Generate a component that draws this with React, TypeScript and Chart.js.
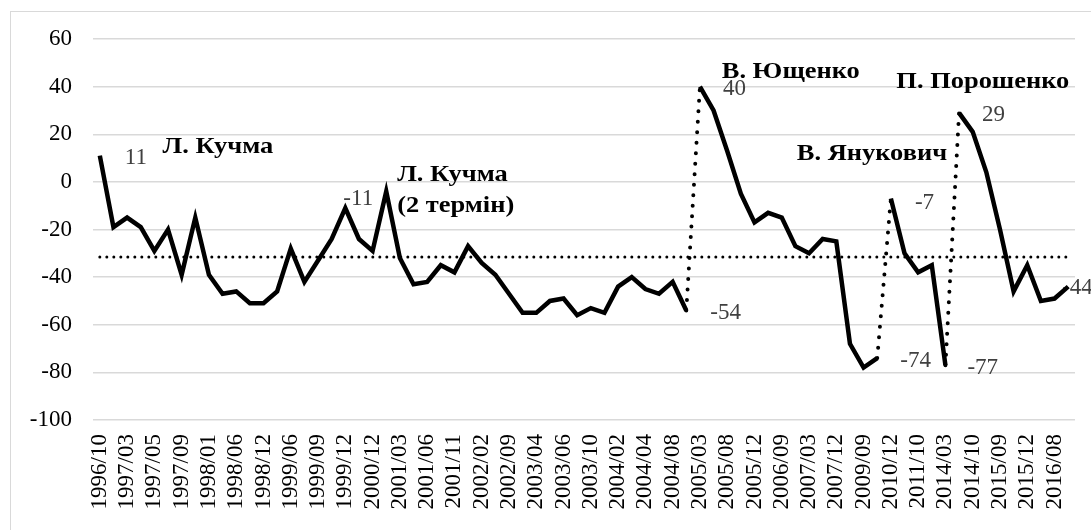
import React, { useEffect, useRef } from "react";
import { Chart, registerables } from "chart.js";

Chart.register(...registerables);

// Survey dates (every other one is shown on the axis)
const periods = [
  "1996/10", "1996/12", "1997/03", "1997/04", "1997/05", "1997/07", "1997/09", "1997/11",
  "1998/01", "1998/03", "1998/06", "1998/09", "1998/12", "1999/03", "1999/06", "1999/07",
  "1999/09", "1999/11", "1999/12", "2000/06", "2000/12", "2001/01", "2001/03", "2001/04",
  "2001/06", "2001/09", "2001/11", "2001/12", "2002/02", "2002/06", "2002/09", "2003/02",
  "2003/04", "2003/05", "2003/06", "2003/08", "2003/10", "2003/12", "2004/02", "2004/03",
  "2004/04", "2004/06", "2004/08", "2004/10", "2005/03", "2005/05", "2005/08", "2005/10",
  "2005/12", "2006/04", "2006/09", "2006/12", "2007/03", "2007/09", "2007/12", "2008/12",
  "2009/09", "2009/12", "2010/12", "2011/03", "2011/10", "2012/05", "2014/03", "2014/06",
  "2014/10", "2015/03", "2015/09", "2015/10", "2015/12", "2016/03", "2016/08", "2016/12",
];

// Balance of trust in the president
const balance = [
  11, -19, -15, -19, -29, -20, -39, -15,
  -39, -47, -46, -51, -51, -46, -28, -42,
  -33, -24, -11, -24, -29, -4, -32, -43,
  -42, -35, -38, -27, -34, -39, -47, -55,
  -55, -50, -49, -56, -53, -55, -44, -40,
  -45, -47, -42, -54, 40, 30, 13, -5,
  -17, -13, -15, -27, -30, -24, -25, -68,
  -78, -74, -7, -30, -38, -35, -77, 29,
  21, 4, -20, -46, -35, -50, -49, -44,
];

// Average level (dotted horizontal line)
const AVERAGE = -31.5;

// Indices after which a presidency changes (drawn as dotted connectors)
const changeovers = [43, 57, 62];

// Y axis ticks
const Y_MIN = -100;
const Y_MAX = 60;
const Y_STEP = 20;

// Value labels attached to data points
const valueLabels = [
  { index: 0, text: "11", dx: 25, dy: 2, under: false },
  { index: 18, text: "-11", dx: -2, dy: -9, under: false },
  { index: 43, text: "-54", dx: 24, dy: 2, under: false },
  { index: 44, text: "40", dx: 23, dy: 2, under: false },
  { index: 57, text: "-74", dx: 23, dy: 3, under: false },
  { index: 58, text: "-7", dx: 24, dy: 4, under: false },
  { index: 62, text: "-77", dx: 22, dy: 3, under: false },
  { index: 63, text: "29", dx: 23, dy: 2, under: false },
  { index: 71, text: "-44", dx: -6, dy: 1, under: true },
];

// President names (anchored in data coordinates: category index, value)
const presidentLabels = [
  { lines: ["Л. Кучма"], index: 4.6, value: 14.5 },
  { lines: ["Л. Кучма", "(2 термін)"], index: 21.8, value: 2.8 },
  { lines: ["В. Ющенко"], index: 45.6, value: 46 },
  { lines: ["В. Янукович"], index: 51.1, value: 11.6 },
  { lines: ["П. Порошенко"], index: 58.4, value: 42 },
];

const FONT = '"Liberation Serif", "Times New Roman", serif';
const NAME_STRETCH = 1.15;

const annotationPlugin = {
  id: "annotations",
  beforeDatasetsDraw(chart: any) {
    const { ctx, scales } = chart;
    const x = scales.x;
    const y = scales.y;
    ctx.save();
    ctx.font = `23px ${FONT}`;
    ctx.fillStyle = "#404040";
    ctx.textAlign = "left";
    ctx.textBaseline = "middle";
    valueLabels
      .filter((l) => l.under)
      .forEach((l) => {
        ctx.fillText(
          l.text,
          x.getPixelForValue(l.index) + l.dx,
          y.getPixelForValue(balance[l.index]) + l.dy
        );
      });
    ctx.restore();
  },
  afterDatasetsDraw(chart: any) {
    const { ctx, scales } = chart;
    const x = scales.x;
    const y = scales.y;
    ctx.save();
    ctx.textAlign = "left";
    ctx.textBaseline = "middle";
    ctx.font = `23px ${FONT}`;
    ctx.fillStyle = "#404040";
    valueLabels
      .filter((l) => !l.under)
      .forEach((l) => {
        ctx.fillText(
          l.text,
          x.getPixelForValue(l.index) + l.dx,
          y.getPixelForValue(balance[l.index]) + l.dy
        );
      });
    ctx.font = `bold 23px ${FONT}`;
    ctx.fillStyle = "#000000";
    presidentLabels.forEach((p) => {
      const px = x.getPixelForValue(p.index);
      const py = y.getPixelForValue(p.value);
      p.lines.forEach((line, k) => {
        ctx.save();
        ctx.translate(px, py + k * 31);
        ctx.scale(NAME_STRETCH, 1);
        ctx.fillText(line, 0, 0);
        ctx.restore();
      });
    });
    ctx.restore();
  },
};

export default function App() {
  const canvasRef = useRef<HTMLCanvasElement | null>(null);

  useEffect(() => {
    const canvas = canvasRef.current;
    if (!canvas) return;
    const chart = new Chart(canvas, {
      type: "line",
      data: {
        labels: periods,
        datasets: [
          {
            label: "Баланс довіри",
            data: balance,
            borderColor: "#000000",
            borderWidth: 4.5,
            pointRadius: 0,
            tension: 0,
            segment: {
              borderColor: (ctx: any) =>
                changeovers.includes(ctx.p0DataIndex) ? "rgba(0,0,0,0)" : undefined,
            },
          },
          {
            label: "Зміна президента",
            data: balance.map((v, i) =>
              changeovers.includes(i) || changeovers.includes(i - 1) ? v : null
            ),
            borderColor: "#000000",
            borderWidth: 4,
            borderDash: [0, 10.5],
            borderCapStyle: "round",
            pointRadius: 0,
            tension: 0,
            spanGaps: false,
          },
          {
            label: "Середнє",
            data: periods.map(() => AVERAGE),
            borderColor: "#000000",
            borderWidth: 3,
            borderDash: [0, 7],
            borderCapStyle: "round",
            pointRadius: 0,
            tension: 0,
          },
        ],
      },
      options: {
        animation: false,
        responsive: false,
        devicePixelRatio: 1,
        layout: { padding: { top: 39, right: 16, bottom: 0, left: 0 } },
        plugins: {
          legend: { display: false },
          tooltip: { enabled: false },
        },
        scales: {
          x: {
            type: "category",
            offset: true,
            grid: { display: false, drawTicks: false },
            border: { display: false },
            afterFit: (scale: any) => {
              scale.height = 110;
              scale.paddingLeft = 0;
              scale.paddingRight = 0;
            },
            ticks: {
              autoSkip: false,
              minRotation: 90,
              maxRotation: 90,
              padding: 14,
              color: "#000000",
              font: { family: FONT, size: 23 },
              callback: (_v: any, idx: number) => (idx % 2 === 0 ? periods[idx] : ""),
            },
          },
          y: {
            min: Y_MIN,
            max: Y_MAX,
            grid: { color: "#d9d9d9", lineWidth: 1.5, drawTicks: false },
            border: { display: false },
            afterFit: (scale: any) => {
              scale.width = 93;
              scale.paddingTop = 0;
              scale.paddingBottom = 0;
            },
            ticks: {
              stepSize: Y_STEP,
              padding: 21,
              color: "#000000",
              font: { family: FONT, size: 23 },
            },
          },
        },
      },
      plugins: [annotationPlugin],
    } as any);
    return () => chart.destroy();
  }, []);

  return (
    <div
      style={{
        position: "fixed",
        left: 0,
        top: 0,
        width: 1091,
        height: 530,
        overflow: "hidden",
        background: "#ffffff",
      }}
    >
      <div
        style={{
          position: "absolute",
          left: 10,
          top: 11,
          width: 1200,
          height: 600,
          border: "1px solid #d9d9d9",
        }}
      />
      <canvas
        ref={canvasRef}
        width={1091}
        height={530}
        style={{ position: "absolute", left: 0, top: 0, width: 1091, height: 530 }}
      />
    </div>
  );
}
